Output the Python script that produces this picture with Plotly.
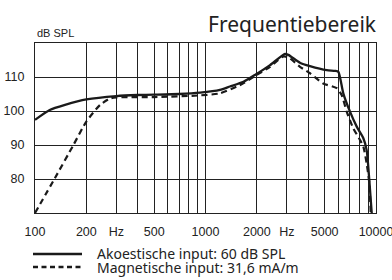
import plotly.graph_objects as go

# Akoestische input (solid)
ak_freq = [100, 122, 150, 200, 300, 400, 500, 700, 930, 1215, 1390, 1670, 1950, 2390, 2930, 3060, 3580, 4100, 5140, 5750, 6015, 6430, 7040, 7710, 8430, 8815, 9135, 9440]
ak_db = [97.4, 100.3, 101.8, 103.4, 104.4, 104.7, 104.8, 105.0, 105.4, 106.2, 107.2, 108.6, 110.6, 113.5, 116.8, 116.5, 114.2, 113.2, 112.0, 111.8, 111.5, 105.2, 99.8, 95.4, 92.0, 88.5, 79.7, 70.0]

# Magnetische input (dashed)
mag_freq = [100, 131, 168, 200, 241, 276, 300, 500, 930, 1215, 1590, 1950, 2390, 2840, 3060, 3580, 4100, 4900, 5885, 6290, 6735, 7360, 8055, 8430, 8815, 9135, 9310]
mag_db = [70.0, 80.3, 90.0, 96.9, 101.8, 103.7, 104.0, 104.1, 104.6, 105.2, 107.6, 110.3, 113.0, 116.0, 115.8, 113.0, 111.1, 108.1, 106.7, 104.7, 99.8, 94.9, 91.5, 89.5, 84.6, 78.7, 70.0]

grid_vals = [100, 200, 300, 400, 500, 600, 700, 800, 900, 1000,
             2000, 3000, 4000, 5000, 6000, 7000, 8000, 9000, 10000]
grid_text = ['100', '200', 'Hz', '', '500', '', '', '', '', '1000',
             '2000', 'Hz', '', '5000', '', '', '', '', '10000']
y_ticks = [80, 90, 100, 110]

legend_names = ['Akoestische input: 60 dB SPL', 'Magnetische input: 31,6 mA/m']

ink = '#1a1a1a'
fig = go.Figure()
fig.add_trace(go.Scatter(x=ak_freq, y=ak_db, mode='lines',
                         line=dict(color=ink, width=2.3, shape='spline', smoothing=0.6),
                         name=legend_names[0]))
fig.add_trace(go.Scatter(x=mag_freq, y=mag_db, mode='lines',
                         line=dict(color=ink, width=2.2, dash='6px,4px', shape='spline', smoothing=0.6),
                         name=legend_names[1]))

tick_font = dict(family='Liberation Sans Narrow, Liberation Sans, Arial', size=12.5, color='#222')

# Manual legend (plot area: 35..376 px wide, 43..213 px tall)
W, H = 341.0, 170.0
def px_x(p):
    return (p - 35) / W
def px_y(p):
    return (213 - p) / H

shapes = [
    dict(type='line', xref='paper', yref='paper', x0=px_x(33), x1=px_x(82), y0=px_y(254), y1=px_y(254),
         line=dict(color=ink, width=2.5)),
    dict(type='line', xref='paper', yref='paper', x0=px_x(33), x1=px_x(82), y0=px_y(267), y1=px_y(267),
         line=dict(color=ink, width=2.5, dash='5px,3.5px')),
]

legend_font = dict(family='Noto Sans', size=14, color='#222')
annotations = [
    dict(text='dB SPL', xref='paper', yref='paper', x=0, y=px_y(33), xanchor='left', yanchor='middle',
         showarrow=False, font=dict(family='Liberation Sans Narrow, Liberation Sans, Arial', size=11, color='#222')),
    dict(text='Frequentiebereik', xref='paper', yref='paper', x=px_x(379), y=px_y(24), xanchor='right', yanchor='middle',
         showarrow=False, font=dict(family='Noto Sans', size=21, color='#222')),
    dict(text=legend_names[0], xref='paper', yref='paper', x=px_x(95), y=px_y(253), xanchor='left', yanchor='middle',
         showarrow=False, font=legend_font),
    dict(text=legend_names[1], xref='paper', yref='paper', x=px_x(95), y=px_y(267), xanchor='left', yanchor='middle',
         showarrow=False, font=legend_font),
]

fig.update_layout(
    width=392, height=280,
    margin=dict(l=35, r=16, t=43, b=67, autoexpand=False),
    paper_bgcolor='white', plot_bgcolor='white',
    showlegend=False,
    xaxis=dict(type='log', range=[2, 4], tickvals=grid_vals, ticktext=grid_text, tickfont=tick_font,
               showgrid=True, gridcolor='#222', gridwidth=1, showline=True, linecolor='#222', linewidth=1.3,
               mirror=True, ticks='', zeroline=False, ticklabelstandoff=7, automargin=False,
               ticklabeloverflow='allow'),
    yaxis=dict(range=[70, 120], tickvals=y_ticks, tickfont=tick_font, showgrid=True, gridcolor='#222', gridwidth=1,
               showline=True, linecolor='#222', linewidth=1.3, mirror=True, ticks='', zeroline=False,
               ticklabelstandoff=7, automargin=False),
    shapes=shapes,
    annotations=annotations,
)

fig.write_html('out.html', config={'displayModeBar': False},
               post_script="document.documentElement.style.margin='0';document.body.style.margin='0';document.body.style.padding='0';")
